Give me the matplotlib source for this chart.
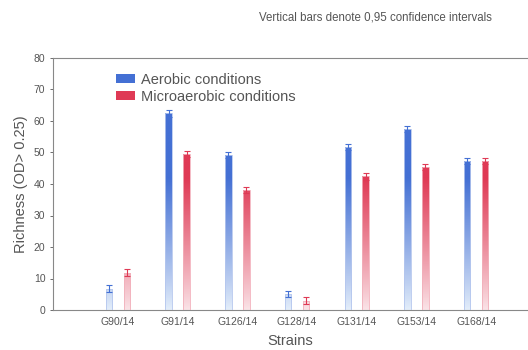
import numpy as np
import matplotlib
matplotlib.use('Agg')
import matplotlib.pyplot as plt
from matplotlib.colors import LinearSegmentedColormap
from matplotlib.patches import Patch

strains = ['G90/14', 'G91/14', 'G126/14', 'G128/14', 'G131/14', 'G153/14', 'G168/14']
aerobic = [6.8, 62.4, 49.3, 5.0, 51.8, 57.5, 47.2]
aerobic_ci = [1.0, 1.0, 1.0, 1.0, 1.0, 1.0, 1.0]
micro = [11.9, 49.5, 38.0, 3.0, 42.4, 45.5, 47.2]
micro_ci = [1.0, 1.0, 1.0, 1.2, 1.0, 1.0, 1.0]

BLUE = '#4470d4'
BLUE_LOW = '#e4eefa'
RED = '#df3a55'
RED_LOW = '#fae4e8'
TXT = '#555555'

plt.rcParams['font.family'] = ['Liberation Sans', 'DejaVu Sans']

fig = plt.figure(figsize=(5.28, 3.5), dpi=100)
ax = fig.add_axes([53 / 528, 1 - 310 / 350, 475 / 528, 252 / 350])

x = np.arange(len(strains))
off = 0.15
width = 0.11


def gradient_bars(xs, vals, errs, color, low):
    cmap = LinearSegmentedColormap.from_list('g', [low, color])
    edge = LinearSegmentedColormap.from_list('e', ['#ffffff', color])(0.4)
    bars = ax.bar(xs, vals, width, facecolor='none', edgecolor=edge,
                  linewidth=0.6, zorder=3)
    for rect in bars:
        x0, h = rect.get_x(), rect.get_height()
        # colour depends on absolute height: pale near zero, full by ~40
        yy = np.linspace(0, h, 200)
        t = np.clip(yy / 42.0, 0, 1) ** 0.9
        im = ax.imshow(t.reshape(-1, 1), cmap=cmap, vmin=0, vmax=1, origin='lower',
                       extent=[x0, x0 + rect.get_width(), 0, h],
                       aspect='auto', zorder=2)
        im.set_clip_path(rect)
    ax.errorbar(xs, vals, yerr=errs, fmt='none', ecolor=color, elinewidth=0.8,
                capsize=2.5, capthick=0.8, zorder=4)


gradient_bars(x - off, aerobic, aerobic_ci, BLUE, BLUE_LOW)
gradient_bars(x + off, micro, micro_ci, RED, RED_LOW)

ax.set_xlim(-1.09, 6.87)
ax.set_ylim(0, 80)
ax.set_yticks(range(0, 81, 10))
ax.set_xticks(x)
ax.set_xticklabels(strains)
ax.tick_params(axis='both', labelsize=7.5, colors=TXT, length=2, width=0.6)
ax.tick_params(axis='x', length=0, pad=5)
for s in ['left', 'bottom', 'top']:
    ax.spines[s].set_color('#888888')
    ax.spines[s].set_linewidth(0.8)
ax.spines['right'].set_visible(False)

ax.set_ylabel('Richness (OD> 0.25)', fontsize=10.5, color=TXT, labelpad=4)
ax.set_xlabel('Strains', fontsize=10.5, color=TXT, labelpad=5)

handles = [Patch(facecolor=BLUE, edgecolor='none', label='Aerobic conditions'),
           Patch(facecolor=RED, edgecolor='none', label='Microaerobic conditions')]
leg = ax.legend(handles=handles, loc='upper left', bbox_to_anchor=(0.12, 0.965),
                frameon=False, fontsize=10.5, handlelength=1.3, handleheight=0.6,
                handletextpad=0.4, labelspacing=0.2, borderaxespad=0)
for t in leg.get_texts():
    t.set_color(TXT)

fig.text(0.712, 0.95, 'Vertical bars denote 0,95 confidence intervals',
         fontsize=8.3, color=TXT, ha='center', va='center')

fig.savefig('out.png', dpi=100)
